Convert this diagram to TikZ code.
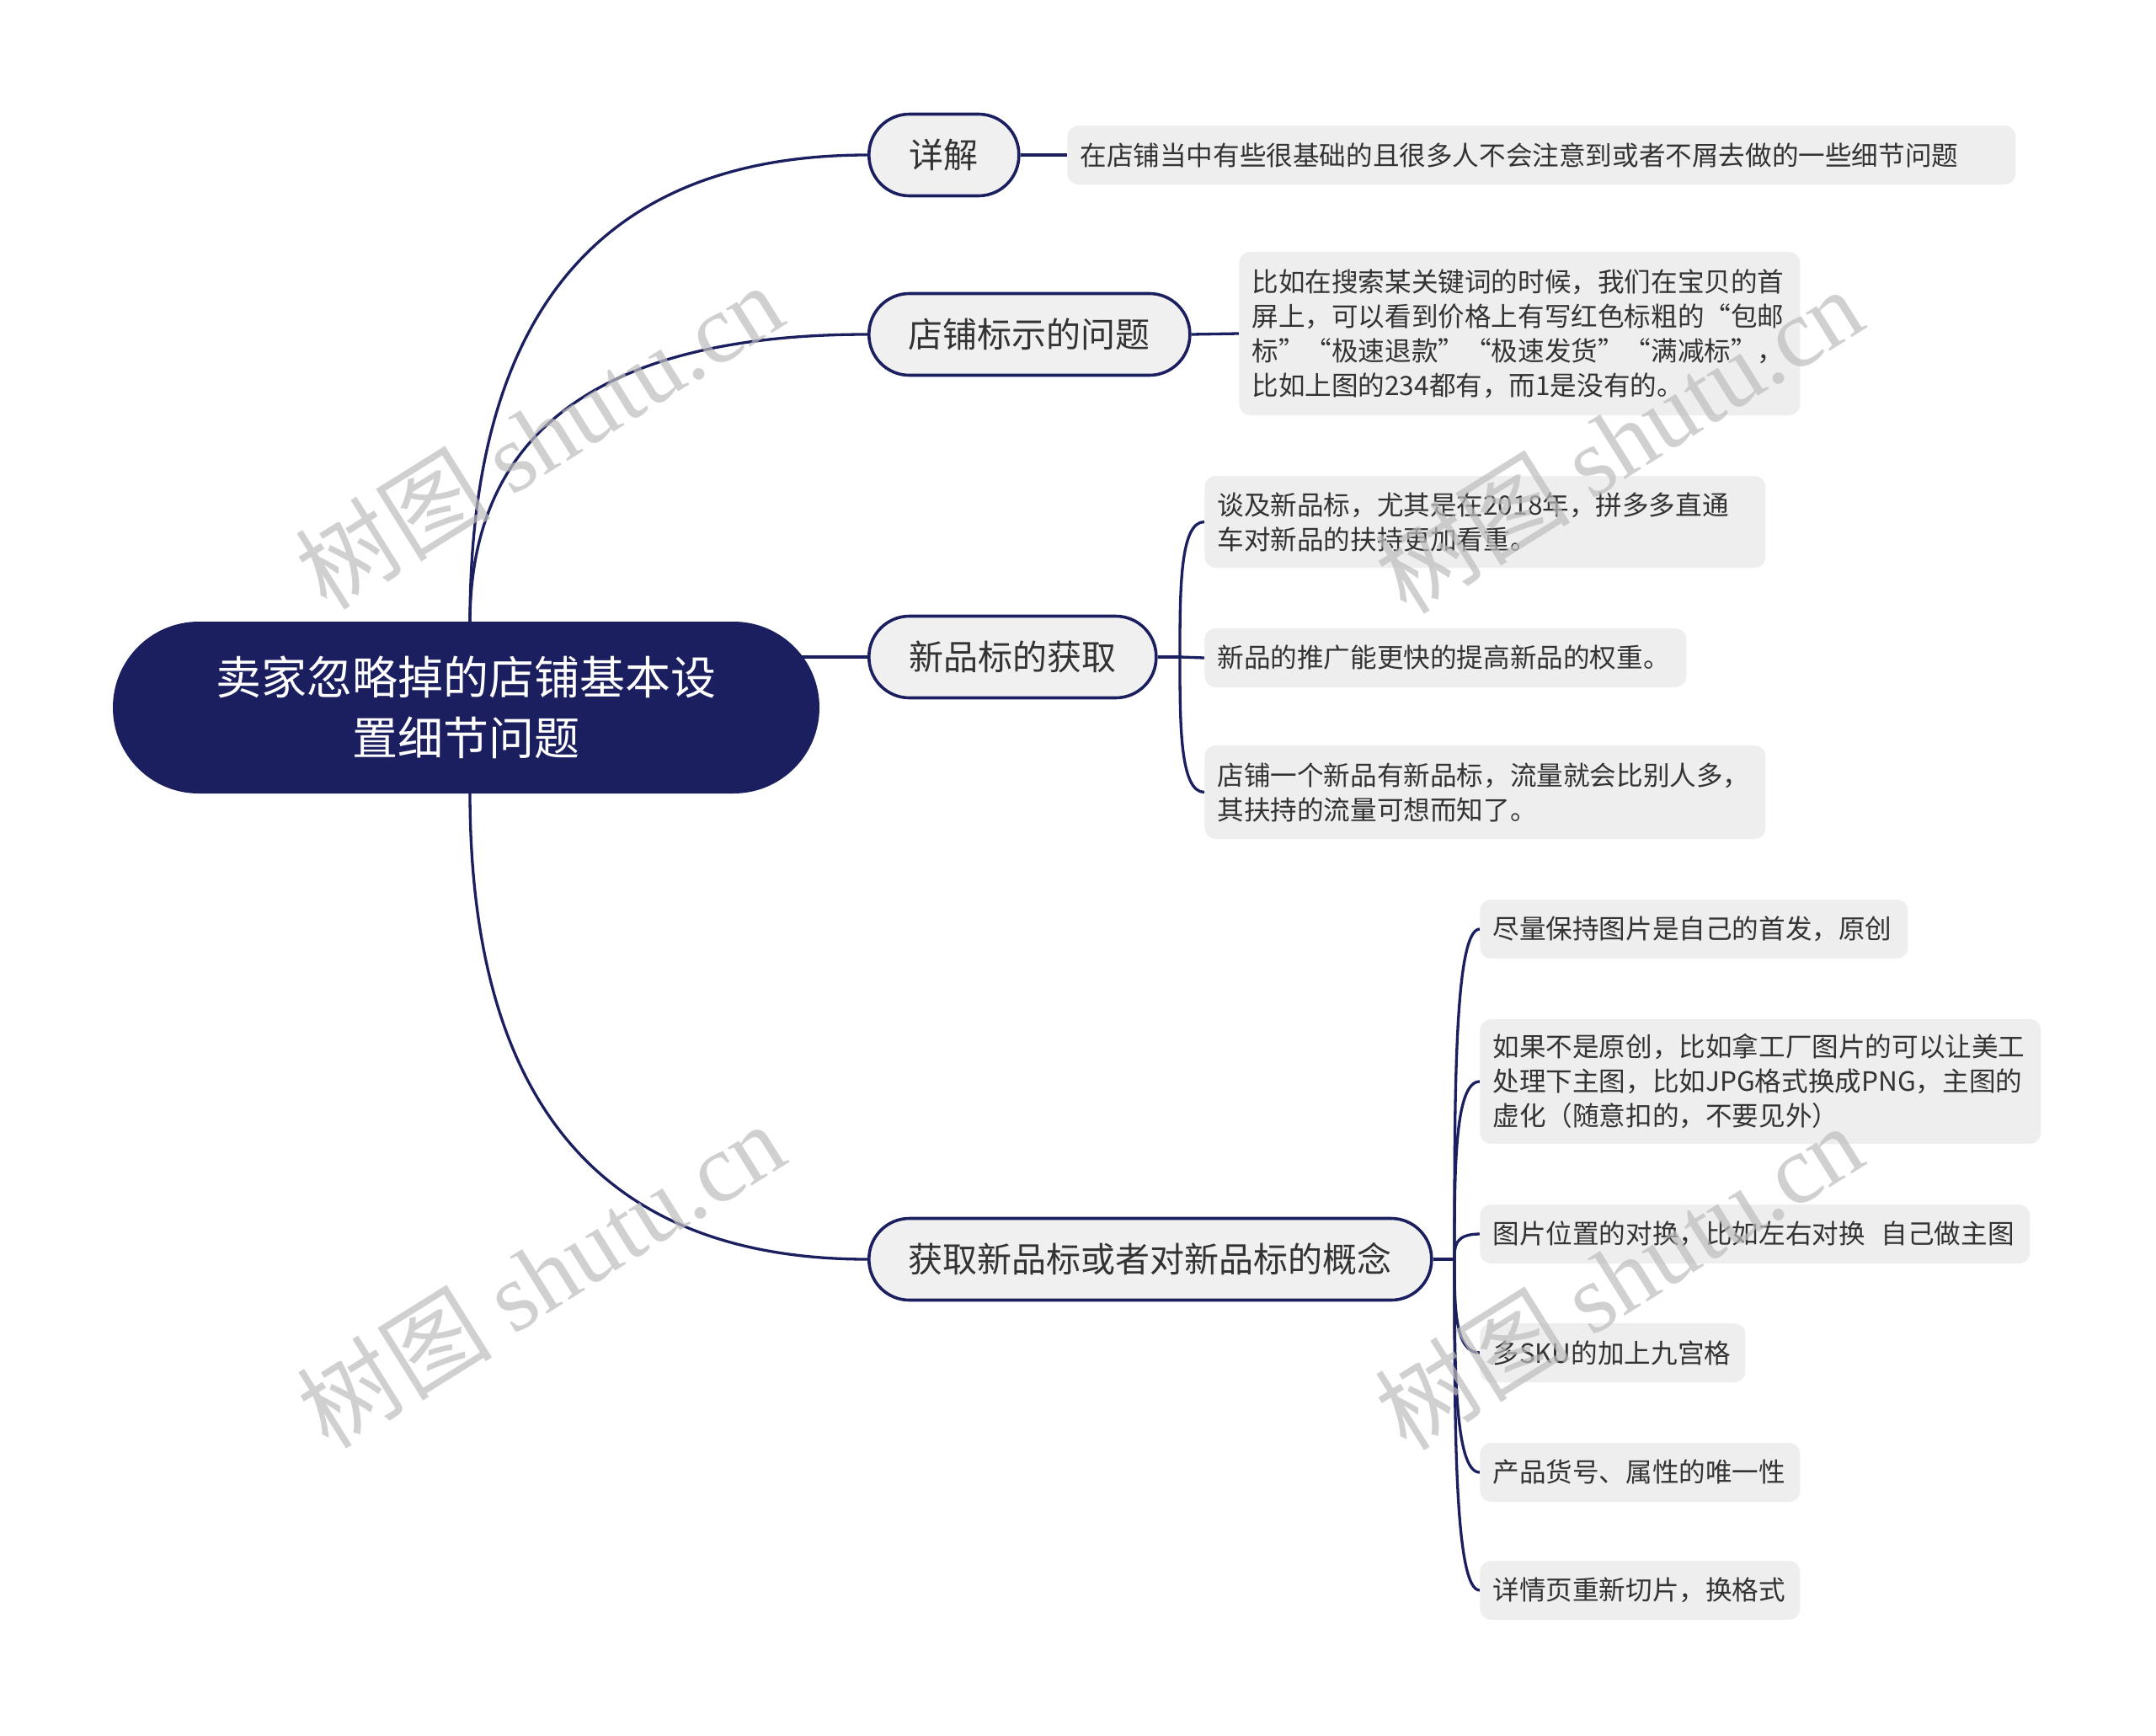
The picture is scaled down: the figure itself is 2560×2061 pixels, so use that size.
\documentclass[tikz,border=0pt]{standalone}
\usepackage{fontspec}
\setmainfont{Noto Sans CJK SC}
\newfontfamily\cjk{Noto Sans CJK SC}
\newfontfamily\wmserif{Liberation Serif}
\usetikzlibrary{calc}
\definecolor{navy}{HTML}{1B1F5F}
\definecolor{nodefill}{HTML}{F0F0F0}
\definecolor{leaffill}{HTML}{EEEEEE}
\definecolor{txt}{HTML}{333333}
\definecolor{wmgray}{HTML}{BDBDBD}
\pgfdeclarelayer{bg}
\pgfsetlayers{bg,main}
\begin{document}
\begin{tikzpicture}[x=0.5pt,y=-0.5pt,
 rootbox/.style={fill=navy, rounded corners=51pt, minimum width=419.5pt, minimum height=102pt, text=white, font=\cjk\fontsize{27}{36}\selectfont, align=center, inner sep=0pt},
 topic/.style={draw=navy, line width=1.8pt, fill=nodefill, rounded corners=24pt, minimum height=48.5pt, text=txt, font=\cjk\fontsize{20.5}{26}\selectfont, inner sep=0pt, anchor=west},
 leaf/.style={fill=leaffill, rounded corners=6.5pt, inner xsep=7.5pt, inner ysep=0pt, text=txt, font=\cjk\fontsize{15.8}{20.5}\selectfont, align=left, anchor=west},
 link/.style={draw=navy, line width=1.65pt},
 wm/.style={text=wmgray, text opacity=0.7, font=\fontsize{58}{60}\selectfont, rotate=32, inner sep=0pt}
]
\useasboundingbox (0,0) rectangle (2560,2061);
\begin{pgfonlayer}{bg}
\fill[white] (0,0) rectangle (2560,2061);
\end{pgfonlayer}

% root
\node[rootbox] (root) at (553.5,840) {卖家忽略掉的店铺基本设\\置细节问题};

% topics
\node[topic, minimum width=89pt]  (n1) at (1030,184)  {详解};
\node[topic, minimum width=190.5pt] (n2) at (1030,397) {店铺标示的问题};
\node[topic, minimum width=170.5pt] (n3) at (1030,780) {新品标的获取};
\node[topic, minimum width=334pt] (n4) at (1030,1495) {获取新品标或者对新品标的概念};

% leaves
\node[leaf, text width=548pt, minimum height=35pt] (a) at (1267,184) {在店铺当中有些很基础的且很多人不会注意到或者不屑去做的一些细节问题};
\node[leaf, text width=318pt, minimum height=97pt] (b) at (1471,396) {比如在搜索某关键词的时候，我们在宝贝的首\\屏上，可以看到价格上有写红色标粗的“包邮\\标”“极速退款”“极速发货”“满减标”，\\比如上图的234都有，而1是没有的。};

\node[leaf, text width=318pt, minimum height=54.5pt] (c1) at (1430,619.5) {谈及新品标，尤其是在2018年，拼多多直通\\车对新品的扶持更加看重。};
\node[leaf, text width=271pt, minimum height=35pt] (c2) at (1430,781) {新品的推广能更快的提高新品的权重。};
\node[leaf, text width=318pt, minimum height=55.5pt] (c3) at (1430,940.5) {店铺一个新品有新品标，流量就会比别人多，\\其扶持的流量可想而知了。};

\node[leaf, text width=239pt, minimum height=35pt] (d1) at (1757,1103) {尽量保持图片是自己的首发，原创};
\node[leaf, text width=318pt, minimum height=74pt] (d2) at (1757,1284) {如果不是原创，比如拿工厂图片的可以让美工\\处理下主图，比如JPG格式换成PNG，主图的\\虚化（随意扣的，不要见外）};
\node[leaf, text width=311.5pt, minimum height=35pt] (d3) at (1757,1465) {图片位置的对换，比如左右对换\hspace{0.6em}自己做主图};
\node[leaf, text width=142.5pt, minimum height=35pt] (d4) at (1757,1606) {多SKU的加上九宫格};
\node[leaf, text width=175pt, minimum height=35pt] (d5) at (1757,1748) {产品货号、属性的唯一性};
\node[leaf, text width=175pt, minimum height=35pt] (d6) at (1757,1888) {详情页重新切片，换格式};

% connectors
\begin{pgfonlayer}{bg}
\coordinate (rt) at (558,740);
\coordinate (rb) at (558,940);
\coordinate (j3) at (1401,780);
\coordinate (j4) at (1727,1495);
\draw[link] (rt) .. controls ($(rt)!0.667!(rt |- n1.west)$) and ($(n1.west)!0.667!(rt |- n1.west)$) .. (n1.west);
\draw[link] (rt) .. controls ($(rt)!0.667!(rt |- n2.west)$) and ($(n2.west)!0.667!(rt |- n2.west)$) .. (n2.west);
\draw[link] (root.center |- n3.west) -- (n3.west);
\draw[link] (rb) .. controls ($(rb)!0.667!(rb |- n4.west)$) and ($(n4.west)!0.667!(rb |- n4.west)$) .. (n4.west);
\draw[link] (n1.east) -- (a.west);
\draw[link] (n2.east) -- (b.west);
\draw[link] (n3.east) -- (j3);
\draw[link] (j3) .. controls ($(j3)!0.5!(j3 |- c1.west)$) and (j3 |- c1.west) .. (c1.west);
\draw[link] (j3) -- (c2.west);
\draw[link] (j3) .. controls ($(j3)!0.5!(j3 |- c3.west)$) and (j3 |- c3.west) .. (c3.west);
\draw[link] (n4.east) -- (j4);
\foreach \d in {d1,d2,d3,d4,d5,d6}{
  \draw[link] (j4) .. controls ($(j4)!0.5!(j4 |- \d.west)$) and (j4 |- \d.west) .. (\d.west);
}
\end{pgfonlayer}

% watermarks
\node[wm] (w1) at (640,517) {{\cjk 树图} {\wmserif shutu.cn}};
\node[wm] (w2) at (1922,522) {{\cjk 树图} {\wmserif shutu.cn}};
\node[wm] (w3) at (642,1513) {{\cjk 树图} {\wmserif shutu.cn}};
\node[wm] (w4) at (1922,1515) {{\cjk 树图} {\wmserif shutu.cn}};
\end{tikzpicture}
\end{document}
